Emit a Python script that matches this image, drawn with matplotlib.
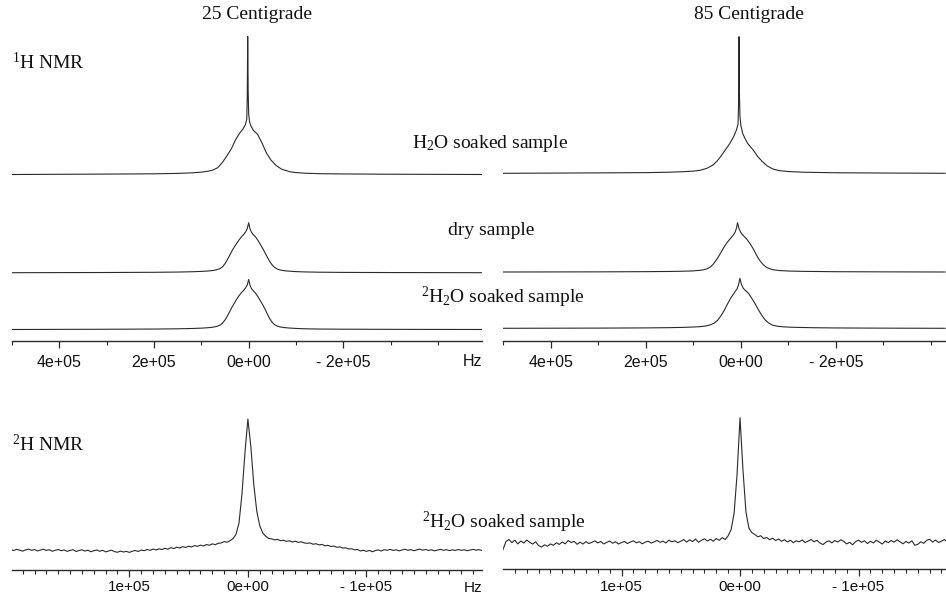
import numpy as np
import matplotlib
matplotlib.use("Agg")
import matplotlib.pyplot as plt
from matplotlib.ticker import FixedLocator

plt.rcParams['mathtext.fontset'] = 'custom'
plt.rcParams['mathtext.rm'] = 'Liberation Serif'
plt.rcParams['mathtext.it'] = 'Liberation Serif:italic'
plt.rcParams['mathtext.default'] = 'rm'

# ---------------- data: 1H NMR spectra (frequency in kHz, intensity in % of peak) ----
h1_h2o_25_freq = [500, 300, 200, 150, 120, 100, 85, 75, 65, 55, 45, 36, 28, 19, 12, 7, 4, 3, 2, 1, 0,
                  -2, -5, -10, -19, -28, -37, -47, -58, -70, -87, -100, -120, -150, -200, -300, -500]
h1_h2o_25_int = [0, 0.3, 0.5, 0.8, 1.2, 1.7, 2.4, 3.3, 5, 9, 14, 19, 25, 30, 33, 36, 40, 55, 100, 60, 44,
                 38, 35, 32, 29, 23, 16, 10.5, 6.5, 3.8, 2.0, 1.4, 0.9, 0.6, 0.4, 0.2, 0]

h1_dry_25_freq = [500, 300, 200, 150, 120, 100, 90, 80, 74, 67, 60, 55, 50, 45, 40, 35, 30, 25, 20, 15, 10, 6, 3, 0,
                  -3, -6, -10, -15, -20, -25, -30, -35, -40, -45, -50, -55, -60, -67, -74, -80, -90, -100, -120,
                  -150, -200, -300, -500]
h1_dry_25_int = [0, 0.4, 0.8, 1.3, 1.9, 2.6, 3.1, 3.9, 4.6, 6.0, 8.5, 12, 18, 26, 35, 44, 52, 59, 66, 72, 77, 82, 88,
                 100,
                 87, 81, 76, 71, 64, 56, 48, 39, 30, 22, 15, 10.5, 7.5, 5.2, 4.2, 3.5, 2.8, 2.2, 1.5, 1.0, 0.6, 0.3, 0]

h1_d2o_25_freq = h1_dry_25_freq
h1_d2o_25_int = [0, 0.5, 0.9, 1.4, 2.0, 2.7, 3.3, 4.1, 4.9, 6.3, 9, 13, 19, 27, 36, 45, 53, 61, 68, 74, 79, 84, 89,
                 100,
                 88, 82, 77, 72, 65, 57, 49, 40, 30, 21, 14, 9.5, 7, 5.0, 4.0, 3.4, 2.7, 2.1, 1.4, 0.9, 0.6, 0.3, 0]

h1_h2o_85_freq = [500, 300, 200, 150, 120, 100, 86, 72, 59, 50, 41, 32, 23, 15, 9, 6, 5, 4, 3, 2, 0,
                  -4, -8, -14, -20, -26, -35, -44, -55, -67, -80, -100, -130, -200, -300, -430]
h1_h2o_85_int = [0, 0.3, 0.5, 0.8, 1.2, 1.6, 2.2, 3.6, 6, 9, 13, 17.5, 22, 27, 32, 36, 48, 100, 58, 42, 35,
                 29, 26, 22, 19.5, 17, 12.5, 9, 5.5, 3.2, 2.0, 1.3, 0.8, 0.4, 0.2, 0]

h1_dry_85_freq = [500, 300, 200, 150, 120, 100, 86, 78, 70, 64, 58, 52, 46, 40, 34, 28, 22, 16, 12, 9, 7, 4, 0,
                  -5, -12, -19, -26, -33, -40, -47, -54, -61, -68, -80, -100, -130, -200, -300, -430]
h1_dry_85_int = [0, 0.3, 0.7, 1.1, 1.6, 2.3, 3.5, 4.6, 7, 10.5, 16, 24, 33, 43, 53, 61, 68, 75, 81, 90, 100, 88, 80,
                 74, 67, 58, 47, 34, 23, 15, 9.5, 6.5, 4.5, 3.0, 2.0, 1.3, 0.6, 0.3, 0]

h1_d2o_85_freq = [500, 300, 200, 150, 120, 100, 86, 74, 64, 56, 49, 42, 35, 28, 21, 14, 8, 5, 2,
                  -1, -5, -10, -16, -23, -30, -37, -44, -51, -58, -66, -76, -90, -110, -150, -200, -300, -430]
h1_d2o_85_int = [0, 0.4, 0.8, 1.3, 1.9, 2.6, 3.3, 4.6, 7, 10.5, 16, 25, 36, 49, 61, 71, 79, 87, 100,
                 88, 80, 75, 70, 60, 49, 37, 26, 17, 11, 6.5, 4.2, 2.9, 2.0, 1.2, 0.7, 0.3, 0]

# ---------------- data: 2H NMR spectra, sampled every 2.5 kHz (intensity in % of peak) ----
h2_25_start_khz, h2_25_stop_khz = 200, -200
h2_25_int = [0.8, 0.2, 1.0, 0.4, -0.3, 0.6, 1.2, 0.3, 0.9, -0.2,
             0.5, 1.1, 0.2, 0.7, -0.4, 0.3, 0.9, 0.0, 0.6, -0.5,
             0.2, 0.8, -0.6, 0.1, 0.7, -0.3, 0.4, -0.8, 0.0, 0.5,
             -0.4, 0.3, -0.9, -0.2, 0.4, -0.7, -1.2, -0.3, -1.0, -0.5,
             -1.3, -0.4, 0.2, -0.6, 0.5, 0.0, 0.9, 0.3, 1.2, 0.6,
             1.4, 0.9, 1.8, 1.2, 2.3, 1.6, 2.7, 2.0, 3.1, 2.5,
             3.4, 2.8, 3.9, 3.3, 4.2, 3.6, 4.7, 4.1, 5.2, 4.6,
             5.6, 5.9, 6.9, 6.4, 7.6, 9.2, 12.5, 21, 43, 74,
             100,
             79, 50, 30, 19, 13.5, 11, 9.3, 9.0, 8.2, 8.6,
             7.6, 8.0, 7.1, 7.5, 6.6, 7.2, 6.3, 6.8, 5.9, 5.6,
             5.9, 4.9, 5.3, 4.4, 4.8, 3.7, 4.1, 3.2, 3.5, 2.6,
             2.9, 2.0, 2.2, 1.3, 1.5, 0.6, 0.9, -0.2, 0.3, -0.5,
             0.2, -0.8, 0.1, 0.6, -0.2, 0.8, 0.3, 1.0, 0.2, 0.7,
             -0.1, 0.5, 1.1, 0.3, 0.8, 0.0, 0.6, 1.2, 0.4, 0.9,
             0.2, 0.7, -0.1, 0.5, 1.0, 0.3, 0.8, 0.1, 0.6, 0.2,
             0.9, 0.3, 0.7, 0.0, 0.5, 1.0, 0.4, 0.8, 0.2, 0.5]

h2_85_start_khz, h2_85_stop_khz = 200, -175
h2_85_int = [-5.0, 1.5, 3.0, 0.5, 2.5, -0.5, 1.8, 0.2, 2.6, 0.8,
             -0.6, 1.2, -1.8, -3.0, -1.2, -2.4, -0.5, -1.6, 0.4, -0.9,
             1.0, -0.4, 2.2, 0.6, 1.6, -0.8, 0.9, -0.6, 1.3, -0.2,
             0.8, 1.9, 0.3, 1.4, -0.5, 0.7, 1.8, 0.1, 1.2, -0.6,
             0.6, 1.5, -0.2, 1.0, 2.0, 0.4, 1.3, -0.4, 0.9, 1.7,
             0.2, 1.1, 2.3, 0.8, 1.7, 0.3, 2.5, 1.2, 2.0, 0.5,
             1.6, 3.0, 1.0, 2.8, 1.4, 3.4, 0.8, 2.4, 3.6, 1.8,
             3.2, 1.6, 3.8, 2.4, 4.5, 3.0, 6.0, 11, 24, 55,
             100,
             58, 25, 12, 8.5, 7.0, 5.2, 6.0, 3.8, 4.6, 2.9,
             4.0, 2.2, 3.5, 1.6, 2.9, 1.0, 2.4, 0.5, 2.0, 1.2,
             2.6, 0.6, 1.8, 3.0, 1.2, 2.4, 0.2, -1.0, 0.9, 2.0,
             0.4, 2.2, 1.0, 2.8, 1.5, -0.5, 0.8, -1.2, 1.4, 2.5,
             0.8, 2.0, -0.2, 1.6, 0.3, 2.4, 1.0, -0.6, 1.8, 0.5,
             2.2, 0.9, 2.8, 1.2, -0.4, 1.5, 0.2, 2.0, -1.6, -0.8,
             1.2, 0.0, 2.4, 3.2, 1.0, 2.6, 0.6, 1.8, 3.0, 0.8]

# tick labels
h1_tick_vals = [4e5, 2e5, 0, -2e5]
h1_tick_labels = ["4e+05", "2e+05", "0e+00", "- 2e+05"]
h2_tick_vals = [1e5, 0, -1e5]
h2_tick_labels = ["1e+05", "0e+00", "- 1e+05"]

# ---------------- figure / layout (pixel based) ----------------
W, H = 946, 597
fig = plt.figure(figsize=(W / 100, H / 100), dpi=100)
LINE = '#2a2a2a'
SERIF = 'Liberation Serif'
SANS = 'Liberation Sans'


def make_ax(x0, x1, ytop, ybot, xlim, pad=5, lsize=11.5):
    ax = fig.add_axes([x0 / W, 1 - ybot / H, (x1 - x0) / W, (ybot - ytop) / H])
    ax.set_xlim(*xlim)
    ax.set_ylim(0, ybot - ytop)
    for s in ['top', 'left', 'right']:
        ax.spines[s].set_visible(False)
    ax.spines['bottom'].set_color(LINE)
    ax.spines['bottom'].set_linewidth(1.0)
    ax.set_yticks([])
    ax.patch.set_alpha(0)
    ax.tick_params(axis='x', which='major', length=5, width=0.9, color=LINE, pad=pad,
                   labelsize=lsize, labelcolor='#111111')
    ax.tick_params(axis='x', which='minor', length=3, width=0.8, color=LINE)
    return ax


def spec(ax, freq_khz, inten, base, scale):
    f = np.asarray(freq_khz, dtype=float) * 1e3
    y = base + scale * np.asarray(inten, dtype=float) / 100.0
    ax.plot(f, y, color=LINE, lw=0.8, solid_joinstyle='round')


def grid_spec(ax, start, stop, inten, base, scale):
    f = np.linspace(start, stop, len(inten))
    spec(ax, f, inten, base, scale)


def set_ticks(ax, vals, labels, minor):
    ax.xaxis.set_major_locator(FixedLocator(vals))
    ax.set_xticklabels(labels, fontfamily=SANS)
    ax.xaxis.set_minor_locator(FixedLocator(minor))


# top-left (1H, 25 C)
ax1 = make_ax(12, 482, 25, 341, (5.0e5, -4.93e5))
spec(ax1, h1_h2o_25_freq, h1_h2o_25_int, 166.5, 138)
spec(ax1, h1_dry_25_freq, h1_dry_25_int, 68.3, 50)
spec(ax1, h1_d2o_25_freq, h1_d2o_25_int, 11.5, 50)
set_ticks(ax1, h1_tick_vals, h1_tick_labels, [5e5, 3e5, 1e5, -1e5, -3e5, -4e5])

# top-right (1H, 85 C)
ax2 = make_ax(503, 946, 25, 341, (5.01e5, -4.32e5))
spec(ax2, h1_h2o_85_freq, h1_h2o_85_int, 167.7, 136.6)
spec(ax2, h1_dry_85_freq, h1_dry_85_int, 69, 49.3)
spec(ax2, h1_d2o_85_freq, h1_d2o_85_int, 12.7, 50)
set_ticks(ax2, h1_tick_vals, h1_tick_labels, [5e5, 3e5, 1e5, -1e5, -3e5, -4e5])

# bottom-left (2H, 25 C)
minor2 = [v * 1e4 for v in range(-19, 20) if v % 10 != 0]
ax3 = make_ax(12, 482, 400, 570, (1.99e5, -1.975e5), pad=2.5, lsize=11)
grid_spec(ax3, h2_25_start_khz, h2_25_stop_khz, h2_25_int, 19.3, 131.7)
set_ticks(ax3, h2_tick_vals, h2_tick_labels, minor2)

# bottom-right (2H, 85 C)
ax4 = make_ax(503, 946, 400, 569.3, (2.0e5, -1.738e5), pad=2.5, lsize=11)
grid_spec(ax4, h2_85_start_khz, h2_85_stop_khz, h2_85_int, 26, 125.6)
set_ticks(ax4, h2_tick_vals, h2_tick_labels, minor2)


# ---------------- text ----------------
def ftext(x, y, s, size=14, ha='left', va='baseline', family=SERIF):
    fig.text(x / W, 1 - y / H, s, fontsize=size, ha=ha, va=va, family=family, color='#111111')


ftext(257, 19, "25 Centigrade", ha='center')
ftext(749, 19, "85 Centigrade", ha='center')
ftext(12, 69, r"$^{1}$H NMR", size=14)
ftext(490, 148, r"H$_{2}$O soaked sample", ha='center')
ftext(491, 235, "dry sample", ha='center')
ftext(503, 303, r"$^{2}$H$_{2}$O soaked sample", ha='center')
ftext(12, 451, r"$^{2}$H NMR", size=14)
ftext(504, 528, r"$^{2}$H$_{2}$O soaked sample", ha='center')
ftext(482, 366, "Hz", size=11.5, ha='right', family=SANS)
ftext(482, 592, "Hz", size=11, ha='right', family=SANS)

fig.savefig("out.png", dpi=100, facecolor='white')
